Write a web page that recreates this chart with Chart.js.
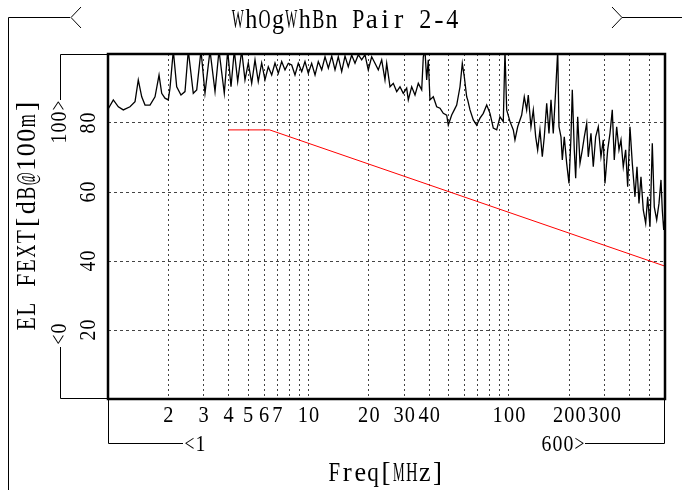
<!DOCTYPE html>
<html>
<head>
<meta charset="utf-8">
<script src="https://cdn.jsdelivr.net/npm/chart.js@4"></script>
<style>
  body { margin: 0; background: #fff; }
  canvas { display: block; }
</style>
</head>
<body>
<canvas id="fext-chart" width="682" height="490"></canvas>
<script>
const freqMHz = [
    1.00, 1.063, 1.126, 1.192, 1.287, 1.364, 1.416, 1.473, 1.53, 1.62,
    1.716, 1.797, 1.853, 1.924, 1.998, 2.038, 2.117, 2.201, 2.312, 2.421,
    2.515, 2.663, 2.77, 2.91, 3.046, 3.227, 3.418, 3.578, 3.802, 3.954,
    4.107, 4.265, 4.435, 4.643, 4.822, 5.009, 5.208, 5.41, 5.617, 5.841,
    6.067, 6.302, 6.554, 6.806, 7.069, 7.35, 7.636, 7.931, 8.246, 8.564,
    8.895, 9.25, 9.605, 9.977, 10.37, 10.78, 11.19, 11.64, 12.09, 12.56,
    13.06, 13.56, 14.08, 14.64, 15.21, 15.79, 16.42, 17.06, 17.72, 18.42,
    19.13, 19.87, 20.66, 21.46, 22.29, 23.18, 24.07, 24.55, 25.5, 26.48,
    27.54, 28.6, 29.7, 30.88, 31.46, 32.71, 33.98, 35.29, 36.7, 37.38,
    38.11, 38.86, 39.58, 40.36, 41.92, 43.59, 45.28, 47.02, 48.9, 49.81,
    51.79, 53.36, 54.85, 56.97, 58.5, 59.86, 61.52, 62.23, 63.9, 66.37,
    69.02, 71.69, 74.45, 77.42, 80.4, 83.51, 86.84, 90.19, 93.67, 95.5,
    97.39, 101.2, 105.1, 107.1, 110.5, 115.7, 119.2, 122.5, 124.8, 128.7,
    132.2, 135.9, 139.0, 142.7, 146.6, 150.0, 154.2, 158.3, 162.0, 166.3,
    171.0, 175.0, 177.6, 181.7, 184.5, 188.7, 194.0, 199.2, 203.8, 206.9,
    211.7, 215.1, 220.1, 226.0, 232.1, 237.5, 244.1, 248.6, 256.4, 263.3,
    270.6, 278.9, 287.6, 295.3, 301.1, 310.6, 319.0, 327.5, 335.1, 344.5,
    353.7, 361.9, 371.6, 381.9, 390.8, 401.3, 412.1, 425.0, 434.9, 445.0,
    455.3, 467.5, 480.6, 491.8, 505.0, 518.5, 530.5, 545.4, 560.0, 573.0,
    581.6, 591.1, 600
];
const fextDb = [
    84.0, 86.7, 84.7, 83.8, 84.7, 86.2, 92.5, 87.6, 85.2, 85.2,
    87.6, 93.9, 88.6, 87.2, 86.7, 90.1, 101, 90.5, 88.1, 89.1,
    101, 88.6, 89.6, 101, 88.6, 101, 89.1, 101, 88.6, 101,
    90.5, 101, 92.0, 101, 92.5, 97.4, 91.5, 98.3, 92.0, 97.4,
    92.5, 96.3, 93.9, 97.4, 94.4, 97.8, 95.4, 97.3, 96.8, 93.9,
    97.3, 94.9, 97.8, 94.4, 97.3, 93.9, 97.8, 95.4, 99.2, 95.9,
    99.4, 95.4, 99.2, 94.9, 99.4, 96.3, 99.7, 97.3, 99.8, 98.3,
    99.8, 95.4, 99.2, 97.3, 95.4, 98.3, 92.5, 97.3, 90.5, 91.5,
    89.1, 90.5, 88.6, 90.1, 86.7, 90.5, 88.1, 91.5, 89.6, 99.2,
    101, 92.5, 98.3, 86.7, 87.6, 84.7, 84.3, 82.8, 82.3, 79.4,
    82.3, 83.8, 85.2, 90.5, 97.3, 93.4, 87.6, 86.7, 83.8, 80.9,
    79.4, 81.4, 82.8, 85.2, 82.8, 78.5, 78.0, 81.8, 80.4, 101,
    83.8, 80.4, 78.0, 75.1, 78.9, 82.3, 87.6, 83.8, 88.1, 78.9,
    83.8, 76.0, 72.2, 78.0, 70.2, 76.0, 85.7, 77.0, 86.7, 77.0,
    89.6, 101, 78.9, 76.0, 69.3, 76.0, 68.3, 62.5, 76.0, 89.6,
    72.2, 64.0, 81.8, 68.3, 72.2, 76.0, 79.9, 70.2, 77.0, 67.3,
    76.0, 78.9, 70.2, 75.1, 62.5, 72.2, 77.0, 83.8, 69.3, 78.9,
    72.2, 75.1, 67.3, 72.2, 61.5, 78.9, 68.3, 58.6, 67.3, 56.7,
    64.4, 54.8, 50.9, 58.6, 49.9, 74.1, 55.7, 51.9, 56.7, 63.5,
    54.8, 49.0, 53
];

// limit line
const limitFreq = [4, 6.4, 600];
const limitDb = [78, 78, 38.5];

// axes
const xGridValues = [2, 3, 4, 5, 6, 7, 8, 9, 10, 20, 30, 40, 50, 60, 70, 80, 90, 100, 200, 300, 400, 500];
const xTickLabels = [2, 3, 4, 5, 6, 7, 10, 20, 30, 40, 100, 200, 300];
const yTickLabels = [20, 40, 60, 80];
const xMin = 1, xMax = 600, yMin = 0, yMax = 100;

const toPoints = (xs, ys) => xs.map((x, i) => ({ x: x, y: ys[i] }));

const FONT = '"Liberation Serif", "DejaVu Serif", serif';

// serif text laid out on a fixed pitch, like the instrument font
function monoText(ctx, s, x, y, size, pitch, rot, align) {
    ctx.save();
    ctx.translate(x, y);
    if (rot) ctx.rotate(rot);
    ctx.font = size + 'px ' + FONT;
    ctx.fillStyle = '#000';
    ctx.textAlign = 'center';
    ctx.textBaseline = 'middle';
    const total = s.length * pitch;
    const x0 = align === 'left' ? 0 : (align === 'right' ? -total : -total / 2);
    for (let i = 0; i < s.length; i++) {
        const c = s[i];
        if (c === ' ') continue;
        const w = ctx.measureText(c).width;
        const sc = Math.min(1, pitch * 0.9 / w);
        ctx.save();
        ctx.translate(x0 + pitch * (i + 0.5), 0);
        ctx.scale(sc, 1);
        ctx.fillText(c, 0, 0);
        ctx.restore();
    }
    ctx.restore();
}

function line(ctx, pts) {
    ctx.beginPath();
    ctx.moveTo(pts[0][0], pts[0][1]);
    for (let i = 1; i < pts.length; i++) ctx.lineTo(pts[i][0], pts[i][1]);
    ctx.stroke();
}

const decorPlugin = {
    id: 'decor',
    afterDraw(chart) {
        const ctx = chart.ctx;
        const a = chart.chartArea;
        const xs = chart.scales.x, ys = chart.scales.y;

        // plot frame
        ctx.save();
        ctx.strokeStyle = '#000';
        ctx.lineWidth = 2.5;
        ctx.strokeRect(a.left, a.top, a.right - a.left, a.bottom - a.top);

        // outer frame with title
        ctx.lineWidth = 1;
        line(ctx, [[8.5, 490], [8.5, 17.5], [70, 17.5]]);
        line(ctx, [[81, 7], [71, 17.5], [81, 28]]);
        line(ctx, [[612, 7], [622, 17.5], [682, 17.5]]);
        line(ctx, [[612, 28], [622, 17.5]]);

        // y range bracket
        line(ctx, [[a.left, a.top + 0.5], [60.5, a.top + 0.5], [60.5, 100]]);
        line(ctx, [[60.5, 347], [60.5, a.bottom - 0.5], [a.left, a.bottom - 0.5]]);

        // x range bracket
        line(ctx, [[a.left + 0.5, a.bottom], [a.left + 0.5, 443.5], [183, 443.5]]);
        line(ctx, [[585, 443.5], [a.right - 0.5, 443.5], [a.right - 0.5, a.bottom]]);
        ctx.restore();

        // texts
        monoText(ctx, 'WhOgWhBn Pair 2-4', 345, 21, 28, 13.4);
        monoText(ctx, 'EL FEXT[dB@100m]', 28, 215, 28, 14.5, -Math.PI / 2);
        monoText(ctx, 'Freq[MHz]', 386, 474, 27, 12.9);
        monoText(ctx, '100>', 60, 122, 23, 11, -Math.PI / 2);
        monoText(ctx, '<0', 60, 334, 23, 11, -Math.PI / 2);
        monoText(ctx, '<1', 184, 445, 23, 11, 0, 'left');
        monoText(ctx, '600>', 585, 445, 23, 11, 0, 'right');

        xTickLabels.forEach(v => {
            monoText(ctx, String(v), xs.getPixelForValue(v), 416, 23, 11.3);
        });
        yTickLabels.forEach(v => {
            monoText(ctx, String(v), 89, ys.getPixelForValue(v), 23, 11, -Math.PI / 2);
        });
    }
};

const ctx = document.getElementById('fext-chart').getContext('2d');
const fextChart = new Chart(ctx, {
    type: 'scatter',
    data: {
        datasets: [{
            label: 'FEXT',
            data: toPoints(freqMHz, fextDb),
            showLine: true,
            borderColor: '#000',
            borderWidth: 1.3,
            pointRadius: 0,
            tension: 0
        }, {
            label: 'Limit',
            data: toPoints(limitFreq, limitDb),
            showLine: true,
            borderColor: '#ff0000',
            borderWidth: 1,
            pointRadius: 0,
            tension: 0
        }]
    },
    options: {
        responsive: false,
        animation: false,
        layout: {
            padding: { left: 108, right: 17, top: 54, bottom: 91 }
        },
        plugins: {
            legend: { display: false },
            tooltip: { enabled: false }
        },
        scales: {
            x: {
                type: 'logarithmic',
                min: xMin,
                max: xMax,
                afterBuildTicks: (scale) => {
                    scale.ticks = xGridValues.map(v => ({ value: v }));
                },
                ticks: { display: false },
                grid: {
                    color: '#444',
                    lineWidth: 1,
                    drawTicks: false
                },
                // in v4 the border dash also styles the grid lines
                border: { display: false, dash: [2, 3] }
            },
            y: {
                min: yMin,
                max: yMax,
                ticks: { display: false, stepSize: 20 },
                grid: {
                    color: '#444',
                    lineWidth: 1,
                    drawTicks: false
                },
                border: { display: false, dash: [3, 3] }
            }
        }
    },
    plugins: [ decorPlugin ]
});
</script>
</body>
</html>
